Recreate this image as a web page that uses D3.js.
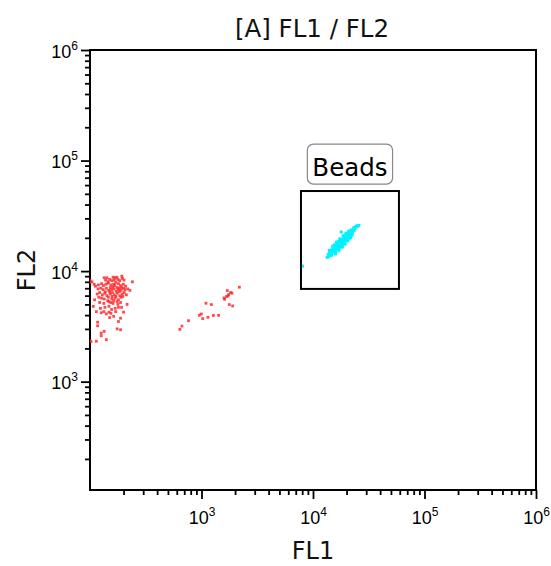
<!DOCTYPE html>
<html>
<head>
<meta charset="utf-8">
<script src="https://cdn.jsdelivr.net/npm/d3@7/dist/d3.min.js"></script>
<style>
  html, body { margin: 0; padding: 0; background: #fff; }
  svg { display: block; }
  .tick text { font-family: "Liberation Sans", Arial, sans-serif; }
</style>
</head>
<body>
<svg id="chart" width="551" height="566"></svg>
<script>
// ---- data (FL1, FL2 fluorescence per event) ----
const title = "[A] FL1 / FL2";
const xLabel = "FL1";
const yLabel = "FL2";

// low-intensity events (red)
const lowEvents = [
  [134,8700],[142,8700],[161,8800],[168,8700],[174,8800],[193,9000],[195,8600],
  [104,8000],[240,8000],[100,8300],[100,7900],
  [109,7600],[119,7500],[127,7700],[132,7400],[139,7600],[146,7800],[154,7500],
  [163,7600],[170,7900],[180,7700],[188,7400],[199,7600],[209,7300],
  [228,6700],[218,6900],
  [116,6200],[122,6400],[129,6100],[136,6300],[142,6000],[152,6200],[159,6400],
  [165,6100],[175,6300],[185,6000],[195,6200],[203,6400],[212,6100],
  [127,5700],[134,5600],[146,5800],[157,5600],[168,5700],[180,5500],[190,5800],
  [122,5200],[133,5100],[148,5300],[154,5200],[161,5100],[175,5300],[188,5200],[215,5000],
  [136,4700],[148,4800],[168,4600],[180,4700],
  [114,4300],[126,4200],[133,4300],[140,4100],[148,4250],[154,4150],[170,4300],[200,4250],
  [188,3750],[117,3450],[180,3500],[117,3200],[175,3000],[188,2950],
  [134,2850],[126,2750],[126,2600],[140,2400],[102,2300],[114,2320],[100,2350],
  [138,8300],[150,8400],[157,8200],[165,8300],[178,8400],[185,8200],[202,8300],
  [145,8000],[152,7100],[160,7200],[167,7400],[175,7100],[183,7000],[192,7100],
  [200,7000],[140,7000],[131,6800],[147,6700],[156,6800],[164,6900],[172,6600],
  [180,6800],[190,6700],[206,6800],[125,7000],[118,6900],[112,7300],[137,6500],
  [150,6500],[158,5900],[171,5900],[183,6500],[197,5900],[120,5800],[144,5400],
  [163,5400],[178,5000],[110,5500],[107,4800],[124,4600],[156,4500],[192,4700],
  [163,3900],[150,3800]
];

// intermediate events (red)
const midEvents = [
  [640,2970],[667,3180],[765,3560],[955,3980],[995,4090],[1024,3720],[1097,5120],
  [1143,3820],[1225,4980],[1277,3980],[1424,3980],[1592,5720],[1612,5560],
  [1703,6670],[1728,5960],[1775,4980],[1825,6400],[1878,6310],[1902,4840],
  [2185,7160],[1751,6140],[1678,5890]
];

// bead events (cyan)
const beadEvents = [
  [13400,13300],[13700,14200],[13900,13600],[14100,14700],[14300,14000],[14500,15100],
  [14600,14400],[14800,15600],[14900,14800],[15100,15300],[15200,16200],[15400,15000],
  [15500,15800],[15700,16600],[15800,15400],[16000,16300],[16100,17100],[16300,15900],
  [16400,16800],[16600,17500],[16700,16300],[16900,17200],[17000,18100],[17200,16800],
  [17300,17700],[17500,18500],[17600,17200],[17800,18100],[17900,19000],[18100,17600],
  [18200,18600],[18400,19400],[18500,18000],[18700,19000],[18800,19900],[19000,18500],
  [19100,19500],[19300,20300],[19400,19000],[19600,19900],[19700,20800],[19900,19400],
  [20000,20400],[20200,21200],[20300,19800],[20500,20800],[20700,21700],[20800,20300],
  [21000,21300],[21200,22100],[21400,20900],[21500,21800],[21700,22600],[21900,21400],
  [22100,22400],[22300,23100],[22600,22400],[22800,23400],[23100,23800],[23400,23300],
  [23700,24400],[24000,24900],[24400,25300],[24800,25700],[25400,25600],[25800,25900],
  [17900,22600],[16800,18600],[19800,22000],[15600,17300],[21200,19800],[18300,16900],
  [15000,16800],[16200,18200],[17400,19600],[18600,20900],[19800,21600],[20900,23000],
  [15900,14300],[17100,15400],[18300,16500],[19500,17600],[20600,18800],[21800,20100],
  [16500,17900],[17700,19300],[18900,20500],[20100,21900],[16000,15000],[17400,16400],
  [18900,17700],[20200,19000],[22400,21200],[23200,24700],[22000,23600],[14000,15400],
  [14700,13900],
  [8050,11100]
];

// rectangular gate
const gateName = "Beads";
const gateFL1 = [7800, 59000];
const gateFL2 = [6900, 53000];

// axis ticks
const majorTicks = [1e3, 1e4, 1e5, 1e6];
const tickExponents = ["3", "4", "5", "6"];

// ---- layout ----
const svg = d3.select("#chart");
const plot = { left: 90, right: 536, top: 50, bottom: 490 };

const x = d3.scaleLog().domain([100, 1e6]).range([plot.left, plot.right]);
const y = d3.scaleLog().domain([Math.pow(10, 2.02), 1e6]).range([plot.bottom, plot.top]);

// minor ticks: 2..9 within each decade
function minorTicks(scale) {
  const [d0, d1] = scale.domain();
  const out = [];
  for (let e = Math.floor(Math.log10(d0)); e < Math.ceil(Math.log10(d1)); e++) {
    for (let m = 2; m <= 9; m++) {
      const v = m * Math.pow(10, e);
      if (v >= d0 && v <= d1) out.push(v);
    }
  }
  return out;
}

const axisStyle = g => {
  g.select(".domain").remove();
  g.selectAll(".tick line").attr("stroke", "#000").attr("stroke-width", 1.8);
};

// minor ticks
svg.append("g")
  .attr("transform", `translate(0,${plot.bottom})`)
  .call(d3.axisBottom(x).tickValues(minorTicks(x)).tickSize(5).tickFormat(""))
  .call(axisStyle);
svg.append("g")
  .attr("transform", `translate(${plot.left},0)`)
  .call(d3.axisLeft(y).tickValues(minorTicks(y)).tickSize(5).tickFormat(""))
  .call(axisStyle);

// major ticks with power-of-ten labels
const xMajor = svg.append("g")
  .attr("transform", `translate(0,${plot.bottom})`)
  .call(d3.axisBottom(x).tickValues(majorTicks).tickSize(9).tickFormat(""))
  .call(axisStyle);
xMajor.selectAll(".tick").each(function(d, i) {
  const t = d3.select(this).append("text")
    .attr("y", 34).attr("text-anchor", "middle")
    .attr("fill", "#000").attr("font-size", 18);
  t.append("tspan").text("10");
  t.append("tspan").attr("font-size", 12).attr("dy", -8).text(tickExponents[i]);
});

const yMajor = svg.append("g")
  .attr("transform", `translate(${plot.left},0)`)
  .call(d3.axisLeft(y).tickValues(majorTicks).tickSize(9).tickFormat(""))
  .call(axisStyle);
yMajor.selectAll(".tick").each(function(d, i) {
  const t = d3.select(this).append("text")
    .attr("x", -12).attr("y", 7).attr("text-anchor", "end")
    .attr("fill", "#000").attr("font-size", 18);
  t.append("tspan").text("10");
  t.append("tspan").attr("font-size", 12).attr("dy", -8).text(tickExponents[i]);
});

// frame
svg.append("rect")
  .attr("x", plot.left).attr("y", plot.top)
  .attr("width", plot.right - plot.left).attr("height", plot.bottom - plot.top)
  .attr("fill", "none").attr("stroke", "#000").attr("stroke-width", 2);

// events
svg.append("clipPath").attr("id", "plotClip").append("rect")
  .attr("x", plot.left).attr("y", plot.top)
  .attr("width", plot.right - plot.left).attr("height", plot.bottom - plot.top);
const dots = svg.append("g").attr("clip-path", "url(#plotClip)");

function drawEvents(data, color, size) {
  dots.append("g").selectAll("rect").data(data).join("rect")
    .attr("x", d => x(d[0]) - size / 2)
    .attr("y", d => y(d[1]) - size / 2)
    .attr("width", size).attr("height", size)
    .attr("fill", color);
}
drawEvents(lowEvents, "rgba(255,35,35,0.82)", 2.8);
drawEvents(midEvents, "rgba(255,35,35,0.82)", 2.8);
drawEvents(beadEvents, "#00f2ff", 3);

// gate
const gx0 = x(gateFL1[0]), gx1 = x(gateFL1[1]);
const gy0 = y(gateFL2[1]), gy1 = y(gateFL2[0]);
svg.append("rect")
  .attr("x", gx0).attr("y", gy0)
  .attr("width", gx1 - gx0).attr("height", gy1 - gy0)
  .attr("fill", "none").attr("stroke", "#000").attr("stroke-width", 2);

const labelFont = "'DejaVu Sans', Verdana, sans-serif";
const gcx = (gx0 + gx1) / 2;
const labelG = svg.append("g");
const labelText = labelG.append("text")
  .attr("x", gcx).attr("y", gy0 - 15)
  .attr("text-anchor", "middle")
  .attr("font-family", labelFont)
  .attr("font-size", 24.5)
  .attr("fill", "#000")
  .text(gateName);
const bb = labelText.node().getBBox();
labelG.insert("rect", "text")
  .attr("x", bb.x - 5).attr("y", gy0 - 47)
  .attr("width", bb.width + 10).attr("height", 40)
  .attr("rx", 6).attr("ry", 6)
  .attr("fill", "#fff").attr("stroke", "#888").attr("stroke-width", 1.2);

// titles
svg.append("text")
  .attr("x", 312).attr("y", 37)
  .attr("text-anchor", "middle")
  .attr("font-family", labelFont).attr("font-size", 24.5)
  .attr("fill", "#111")
  .text(title);

svg.append("text")
  .attr("x", (plot.left + plot.right) / 2).attr("y", 559)
  .attr("text-anchor", "middle")
  .attr("font-family", labelFont).attr("font-size", 24)
  .attr("fill", "#111")
  .text(xLabel);

svg.append("text")
  .attr("transform", `translate(35,${(plot.top + plot.bottom) / 2}) rotate(-90)`)
  .attr("text-anchor", "middle")
  .attr("font-family", labelFont).attr("font-size", 24)
  .attr("fill", "#111")
  .text(yLabel);
</script>
</body>
</html>
